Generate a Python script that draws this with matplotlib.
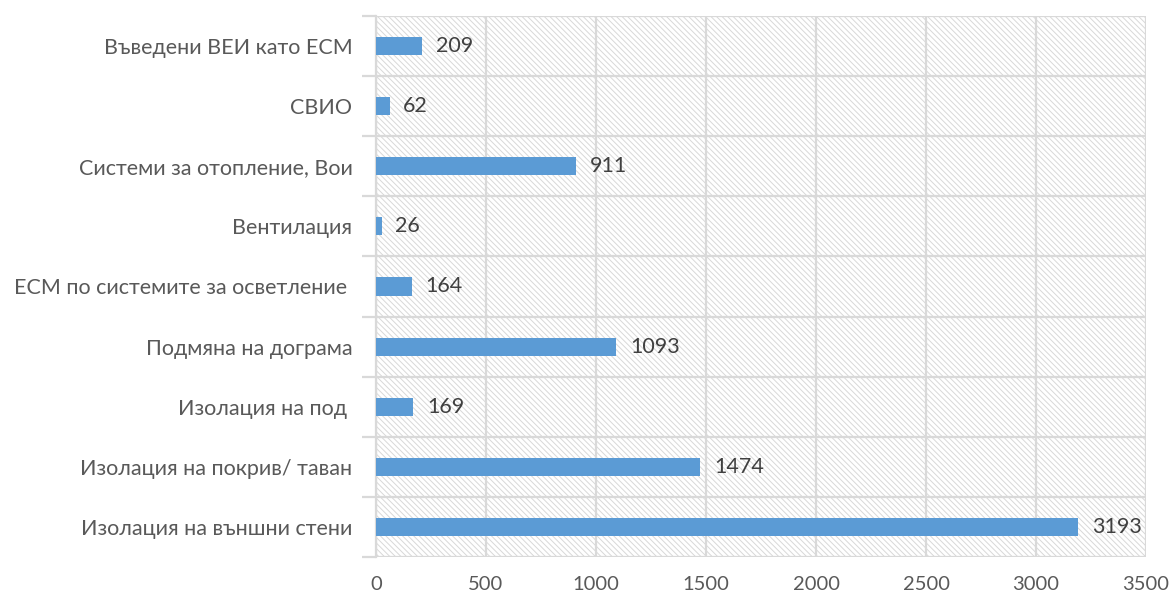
import matplotlib
matplotlib.use("Agg")
import matplotlib.pyplot as plt
import numpy as np
from matplotlib.patches import Rectangle

categories = ["Изолация на външни стени", "Изолация на покрив/ таван", "Изолация на под ",
              "Подмяна на дограма", "ЕСМ по системите за осветление ", "Вентилация",
              "Системи за отопление, Вои", "СВИО", "Въведени ВЕИ като ЕСМ"]
values = [3193, 1474, 169, 1093, 164, 26, 911, 62, 209]
xticks = [0, 500, 1000, 1500, 2000, 2500, 3000, 3500]

plt.rcParams['font.family'] = ['Lato', 'DejaVu Sans']
plt.rcParams['hatch.linewidth'] = 0.7
plt.rcParams['hatch.color'] = '#d8d8d8'

fig = plt.figure(figsize=(11.74, 5.99), dpi=100)
ax = fig.add_axes([376/1174, 1-557/599, (1146-376)/1174, (557-16)/599])

grid_c = '#d9d9d9'
text_c = '#595959'

# hatched background
bg = Rectangle((0, 0), 1, 1, transform=ax.transAxes, facecolor='white',
               edgecolor='#d8d8d8', hatch='\\\\\\\\\\\\', linewidth=0, zorder=0)
ax.add_patch(bg)

y = np.arange(len(categories))
ax.barh(y, values, height=0.3, color='#5b9bd5', zorder=3)
for yi, v in zip(y, values):
    ax.text(v + 62, yi, str(v), va='center', ha='left', fontsize=15.5, color='#404040', zorder=4)

ax.set_xlim(0, 3500)
ax.set_ylim(-0.5, len(categories) - 0.5)
ax.set_xticks(xticks)
ax.set_xticklabels([str(t) for t in xticks])
ax.set_yticks(y)
ax.set_yticklabels(categories)
ax.set_yticks(np.arange(-0.5, len(categories), 1), minor=True)

ax.tick_params(axis='x', length=0, pad=14, labelsize=14.5, labelcolor=text_c)
ax.tick_params(axis='y', which='major', length=0, pad=17, labelsize=15.5, labelcolor=text_c)
ax.tick_params(axis='y', which='minor', length=10, width=1.6, color=grid_c)

ax.grid(axis='x', which='major', color=grid_c, linewidth=1.6, zorder=1)
ax.grid(axis='y', which='minor', color=grid_c, linewidth=1.6, zorder=1)
ax.set_axisbelow(True)

for s in ['top', 'right', 'bottom']:
    ax.spines[s].set_visible(False)
ax.spines['left'].set_color(grid_c)
ax.spines['left'].set_linewidth(1.6)

fig.savefig('out.png', dpi=100)
